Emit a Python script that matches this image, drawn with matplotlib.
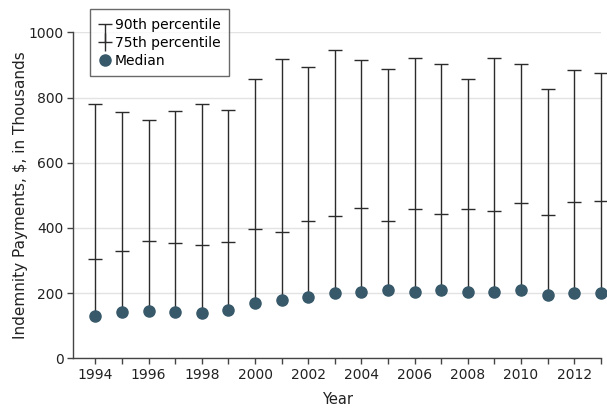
import matplotlib
matplotlib.use("Agg")
import matplotlib.pyplot as plt
from matplotlib.lines import Line2D
from matplotlib.path import Path

years = list(range(1994, 2014))
p90 = [779, 755, 731, 759, 779, 762, 857, 918, 895, 945,
       916, 887, 922, 902, 858, 920, 903, 827, 883, 876]
p75 = [305, 328, 361, 354, 349, 356, 398, 388, 420, 438,
       460, 422, 457, 442, 458, 451, 476, 440, 479, 483]
median = [130, 143, 145, 142, 140, 147, 171, 180, 187, 199,
          203, 208, 203, 208, 202, 204, 209, 193, 199, 199]
label_years = list(range(1994, 2014, 2))
y_ticks = [0, 200, 400, 600, 800, 1000]

dot_color = "#37596a"
line_color = "#2b2b2b"
axis_color = "#444444"

plt.rcParams['font.family'] = ['DejaVu Sans']
plt.rcParams['font.size'] = 10

fig = plt.figure(figsize=(6.07, 4.08), dpi=100)
ax = fig.add_axes([0.1208, 0.1218, 0.8690, 0.7990])

# whiskers from median to 90th percentile
ax.vlines(years, median, p90, color=line_color, lw=1.0, zorder=2, clip_on=False)
ax.plot(years, p90, ls='none', marker='_', ms=9.4, mew=1.0, color=line_color,
        zorder=3, clip_on=False)
ax.plot(years, p75, ls='none', marker='_', ms=9.4, mew=1.0, color=line_color,
        zorder=3, clip_on=False)
ax.plot(years, median, ls='none', marker='o', ms=8.0, color=dot_color,
        mec=dot_color, zorder=4, clip_on=False)

ax.set_xlim(1993.17, 2013.0)
ax.set_ylim(0, 1000)
ax.set_xticks(years)
ax.set_xticklabels([str(y) if y in label_years else '' for y in years])
ax.set_yticks(y_ticks)
ax.yaxis.grid(True, color='#e3e3e3', lw=1.0)
ax.set_axisbelow(True)

for s in ['top', 'right']:
    ax.spines[s].set_visible(False)
for s in ['left', 'bottom']:
    ax.spines[s].set_color(axis_color)
    ax.spines[s].set_linewidth(1.0)
ax.tick_params(direction='out', length=4, width=1.0, color=axis_color,
               labelcolor='#222222', labelsize=10, pad=3)

ax.set_xlabel('Year', color='#222222', fontsize=10.5, labelpad=7)
ax.set_ylabel('Indemnity Payments, $, in Thousands', color='#222222',
              fontsize=11, labelpad=0.5)

# legend with custom whisker symbols
t_marker = Path([(-6.5, 0), (6.5, 0), (0, 0), (0, -18)],
                [Path.MOVETO, Path.LINETO, Path.MOVETO, Path.LINETO])
plus_marker = Path([(-6.5, 0), (6.5, 0), (0, 9), (0, -9)],
                   [Path.MOVETO, Path.LINETO, Path.MOVETO, Path.LINETO])
handles = [
    Line2D([], [], ls='none', marker=t_marker, ms=26, mew=1.0, color=line_color),
    Line2D([], [], ls='none', marker=plus_marker, ms=13, mew=1.0, color=line_color),
    Line2D([], [], ls='none', marker='o', ms=8.0, color=dot_color),
]
leg = fig.legend(handles, ['90th percentile', '75th percentile', 'Median'],
                 loc='upper left', bbox_to_anchor=(0.149, 0.977),
                 borderaxespad=0, frameon=True, fancybox=False,
                 handlelength=0.9, handletextpad=0.25, labelspacing=0.3,
                 borderpad=0.6, fontsize=10)
leg.get_frame().set_edgecolor('#444444')
leg.get_frame().set_linewidth(1.0)

fig.savefig('out.png', dpi=100)
